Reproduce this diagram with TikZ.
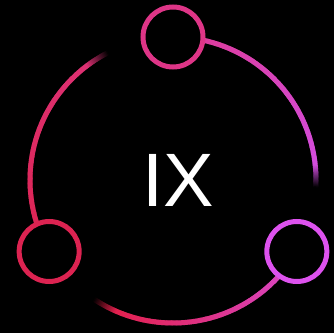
\documentclass[tikz,border=0pt]{standalone}
\usepackage{fontspec}
\setmainfont{Liberation Sans}
\definecolor{topc}{HTML}{DE3587}
\definecolor{blc}{HTML}{DC2351}
\definecolor{brc}{HTML}{DD52EE}
\definecolor{aOneA}{HTML}{DE3A94}
\definecolor{aOneB}{HTML}{D24FE6}
\definecolor{aTwoA}{HTML}{D84ACF}
\definecolor{aTwoB}{HTML}{E41B3E}
\definecolor{aThrA}{HTML}{DC2350}
\definecolor{aThrB}{HTML}{DE3378}
% #1 start angle, #2 end angle (smaller), #3 colour A, #4 colour B, #5 fade length (deg)
\newcommand\mygradarc[5]{%
  \pgfmathsetmacro\mytotal{#1-(#2)}%
  \pgfmathtruncatemacro\mynsteps{2*\mytotal-1}%
  \foreach \k in {0,...,\mynsteps}{%
    \pgfmathsetmacro\aS{#1-\k*0.5}%
    \pgfmathsetmacro\aE{max(\aS-0.75,#2)}%
    \pgfmathtruncatemacro\mypc{50*\k/\mytotal}%
    \pgfmathtruncatemacro\myfd{min(100,(\aS-0.25-(#2))/#5*100)}%
    \colorlet{segc}{#4!\mypc!#3}%
    \draw[line width=5bp, segc!\myfd!black] ([shift={(\aS:143bp)}]ctr) arc[start angle=\aS, end angle=\aE, radius=143bp];
  }%
}
\begin{document}
\begin{tikzpicture}[x=1bp,y=1bp,
  ring/.style={circle, line width=5bp, fill=black, minimum size=60bp, inner sep=0pt}]
\fill[black] (0,0) rectangle (334,333);
\useasboundingbox (0,0) rectangle (334,333);
\coordinate (ctr) at (173,153);
\mygradarc{90}{-3}{aOneA}{aOneB}{9}
\mygradarc{330}{236.5}{aTwoA}{aTwoB}{10}
\mygradarc{210}{117}{aThrA}{aThrB}{10}
\node[ring, draw=topc] (top) at ([shift={(90:143bp)}]ctr) {};
\node[ring, draw=blc] (bl) at ([shift={(210:143bp)}]ctr) {};
\node[ring, draw=brc] (br) at ([shift={(330:143bp)}]ctr) {};
\node[text=white, font=\fontsize{76}{76}\selectfont, inner sep=0pt] (lbl) at (178,153) {IX};
\end{tikzpicture}
\end{document}
